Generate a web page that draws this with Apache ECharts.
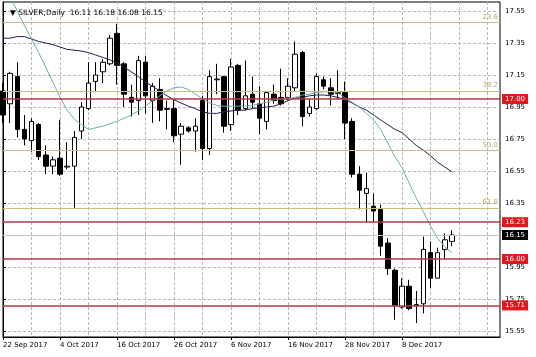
<!DOCTYPE html>
<html><head><meta charset="utf-8">
<script src="https://cdn.jsdelivr.net/npm/echarts@6/dist/echarts.min.js"></script>
<style>html,body{margin:0;padding:0;background:#fff}#c{width:536px;height:357px}</style>
</head><body><div id="c"></div>
<script>
const dateLabels = ['22 Sep 2017','4 Oct 2017','16 Oct 2017','26 Oct 2017','6 Nov 2017','16 Nov 2017','28 Nov 2017','8 Dec 2017'];
const dateLabelIdx = [0,8,16,24,32,40,48,56];
const xGridIdx = [0,4,8,12,16,20,24,28,32,36,40,44,48,52,56,60,64,68];
const yTicks = [17.55,17.35,17.15,16.95,16.75,16.55,16.35,16.15,15.95,15.75,15.55];

const opens  = [17.05,16.97,17.14,16.81,16.74,16.84,16.65,16.58,16.63,16.575,16.58,16.80,16.94,17.11,17.17,17.22,17.41,17.22,17.01,16.99,17.23,16.99,17.06,16.935,16.94,16.78,16.82,16.80,16.99,16.69,17.12,17.14,16.84,17.21,16.94,17.03,16.97,16.86,17.03,17.01,17.01,17.07,17.29,16.91,16.94,17.12,17.07,17.04,17.04,16.86,16.53,16.41,16.33,16.31,16.10,15.93,15.70,15.83,15.71,15.72,16.04,15.88,16.06,16.11];
const highs  = [17.10,17.17,17.23,16.90,16.88,16.85,16.71,16.64,16.87,16.73,16.80,16.98,17.23,17.23,17.25,17.40,17.47,17.23,17.09,17.27,17.27,17.10,17.13,16.99,17.00,16.85,16.83,16.88,17.02,17.18,17.22,17.14,17.25,17.22,17.24,17.14,17.08,17.05,17.09,17.19,17.13,17.36,17.30,17.00,17.16,17.14,17.13,17.18,17.11,16.88,16.58,16.54,16.41,16.34,16.13,15.94,15.88,15.87,15.80,16.14,16.11,16.07,16.16,16.18];
const lows   = [16.85,16.85,16.76,16.71,16.67,16.62,16.53,16.53,16.52,16.56,16.32,16.75,16.93,17.05,17.10,17.21,17.09,16.95,16.89,16.90,16.91,16.85,16.86,16.81,16.73,16.59,16.79,16.67,16.62,16.65,17.03,16.79,16.80,16.90,16.93,16.94,16.78,16.81,16.97,16.96,16.99,17.05,16.83,16.89,16.93,17.06,16.96,17.00,16.75,16.51,16.31,16.23,16.23,16.02,15.90,15.62,15.69,15.68,15.60,15.66,15.82,15.88,16.00,16.08];
const closes = [16.90,17.16,16.81,16.75,16.86,16.64,16.58,16.62,16.53,16.58,16.76,16.95,17.10,17.15,17.23,17.38,17.21,17.03,16.98,17.24,17.02,17.08,16.93,16.94,16.77,16.83,16.80,16.83,16.69,17.14,17.125,16.83,17.20,16.93,17.02,16.98,16.88,17.04,16.99,16.97,17.08,17.28,16.89,16.95,17.14,17.08,17.03,17.035,16.85,16.53,16.43,16.44,16.30,16.08,15.94,15.71,15.83,15.69,15.715,16.06,15.88,16.04,16.12,16.15];

const maSlow = [17.38,17.38,17.39,17.39,17.375,17.36,17.35,17.34,17.325,17.31,17.305,17.30,17.29,17.275,17.26,17.245,17.225,17.20,17.17,17.14,17.105,17.08,17.05,17.02,16.995,16.975,16.955,16.94,16.92,16.91,16.91,16.92,16.925,16.93,16.93,16.94,16.945,16.95,16.955,16.97,16.99,17.005,17.01,17.02,17.025,17.025,17.02,17.01,16.995,16.975,16.95,16.93,16.90,16.87,16.84,16.81,16.79,16.75,16.71,16.68,16.645,16.605,16.575,16.545];
const maFast = [17.725,17.64,17.55,17.46,17.375,17.29,17.20,17.105,17.01,16.93,16.875,16.84,16.81,16.82,16.83,16.845,16.86,16.88,16.90,16.925,16.955,16.99,17.02,17.05,17.07,17.075,17.06,17.03,17.00,16.975,16.96,16.955,16.955,16.955,16.955,16.96,16.97,16.98,16.995,17.00,17.005,17.01,17.025,17.03,17.04,17.045,17.045,17.04,17.005,16.98,16.95,16.91,16.87,16.81,16.725,16.64,16.57,16.475,16.38,16.295,16.205,16.13,16.075,16.04];

const fibLevels = [17.485,17.045,16.685,16.325];
const fibNames = ['23.6','38.2','50.0','61.8'];
const redLevels = [17.00,16.23,16.00,15.71];
const lastPrice = 16.15;
const titleText = 'SILVER,Daily  16.11 16.18 16.08 16.15';

const FONT = 'DejaVu Sans';
const chart = echarts.init(document.getElementById('c'), null, {renderer:'canvas'});

const markData = [];
fibLevels.forEach((v,i)=>markData.push({
  yAxis: v,
  lineStyle:{color:'#c9bf7c', width:1, type:'solid'},
  label:{show:true, position:'insideEndTop', formatter: fibNames[i], color:'#b9a863', fontSize:7, fontFamily:FONT, distance:2}
}));
markData.push({
  yAxis: lastPrice,
  lineStyle:{color:'#c4c4c4', width:1, type:'solid'},
  label:{show:true, position:'end', formatter: lastPrice.toFixed(2), color:'#fff', backgroundColor:'#000', padding:[2,3,1,3], fontSize:7, fontFamily:FONT, distance:2}
});
redLevels.forEach(v=>markData.push({
  yAxis: v,
  lineStyle:{color:'#b03a48', width:1.5, type:'solid'},
  label:{show:true, position:'end', formatter: v.toFixed(2), color:'#fff', backgroundColor:'#e3161e', padding:[2,3,1,3], fontSize:7, fontFamily:FONT, distance:2}
}));

const xMax = 69.75;
chart.setOption({
  animation:false,
  backgroundColor:'#fff',
  textStyle:{fontFamily:FONT},
  title:{text:'\u25BC ' + titleText, left:5, top:4, textStyle:{fontSize:7.5, fontWeight:'normal', color:'#000', fontFamily:FONT}},
  grid:{left:3, right:36, top:2, bottom:20, show:true, borderColor:'#000', borderWidth:1, backgroundColor:'transparent'},
  xAxis:[{
    type:'value', min:0, max:xMax, position:'bottom',
    axisLine:{show:true, lineStyle:{color:'#000', width:1}},
    axisTick:{show:true, customValues:dateLabelIdx, length:3, lineStyle:{color:'#000'}},
    axisLabel:{show:true, customValues:dateLabelIdx, align:'left', margin:5, color:'#000', fontSize:7, fontFamily:FONT,
      formatter:(v)=>{const k=dateLabelIdx.indexOf(Math.round(v)); return k>=0?dateLabels[k]:'';}},
    splitLine:{show:false}
  },{
    type:'value', min:0, max:xMax, position:'top',
    axisLine:{show:false}, axisLabel:{show:false},
    axisTick:{show:false, customValues:xGridIdx},
    splitLine:{show:true, lineStyle:{color:'#b8b8b8', type:[3,2], width:1}}
  }],
  yAxis:{
    type:'value', position:'right', min:15.5125, max:17.60625, scale:true,
    axisLine:{show:true, lineStyle:{color:'#000', width:1}},
    axisTick:{show:true, customValues:yTicks, length:3, lineStyle:{color:'#000'}},
    axisLabel:{show:true, customValues:yTicks, margin:5, color:'#000', fontSize:7, fontFamily:FONT, formatter:(v)=>v.toFixed(2)},
    splitLine:{show:true, lineStyle:{color:'#b8b8b8', type:[3,2], width:1}}
  },
  series:[{
    type:'candlestick',
    xAxisIndex:0,
    data: opens.map((o,i)=>[i,o,closes[i],lows[i],highs[i]]),
    barWidth:5,
    itemStyle:{color:'#fff', color0:'#000', borderColor:'#000', borderColor0:'#000', borderWidth:1},
    markLine:{symbol:['none','none'], silent:true, animation:false, data:markData},
    z:3
  },{
    type:'line', xAxisIndex:0, data: maSlow.map((v,i)=>[i,v]), symbol:'none', showSymbol:false,
    lineStyle:{color:'#20204e', width:1}, z:4
  },{
    type:'line', xAxisIndex:0, data: maFast.map((v,i)=>[i,v]), symbol:'none', showSymbol:false,
    lineStyle:{color:'#6aaeb0', width:1}, z:4
  }]
});
</script></body></html>
